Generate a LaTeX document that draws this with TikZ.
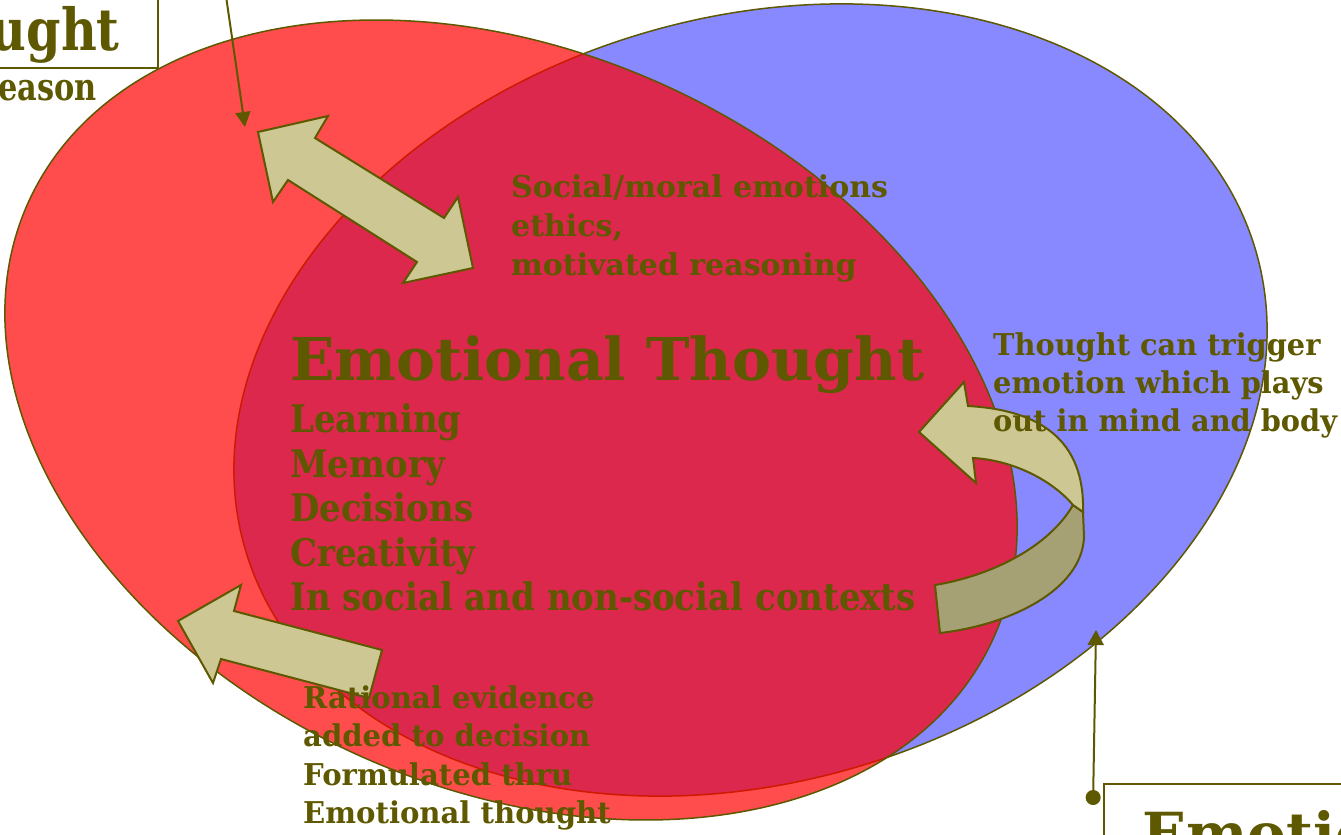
\documentclass[tikz,border=0pt]{standalone}
\usepackage{fontspec}
\usepackage{graphicx}
\setmainfont{DejaVu Serif}
\usetikzlibrary{arrows.meta}
\definecolor{olivetext}{RGB}{94,88,0}
\definecolor{redc}{RGB}{255,0,0}
\definecolor{bluec}{RGB}{136,136,255}
\definecolor{khaki}{RGB}{204,199,147}
\definecolor{khakidark}{RGB}{166,161,116}
\newcommand{\sqz}[2]{\scalebox{#1}[1]{#2}}
\tikzset{
  lbl/.style={anchor=base west, inner sep=0pt, text=olivetext, font=\bfseries\fontsize{#1}{#1}\selectfont},
  lble/.style={anchor=base east, inner sep=0pt, text=olivetext, font=\bfseries\fontsize{#1}{#1}\selectfont},
  outline/.style={draw=olivetext, line width=1.5pt},
  blockarrow/.style={draw=olivetext, line width=2pt, line join=miter, fill=khaki},
  pointer/.style={draw=olivetext, line width=2pt},
  titlebox/.style={draw=olivetext, line width=1.5pt, fill=white},
}
\begin{document}
\begin{tikzpicture}[x=1pt,y=-1pt]
\useasboundingbox (0,0) rectangle (1341,835);
\clip (0,0) rectangle (1341,835);
% ellipses
\draw[outline, fill=bluec, rotate around={16.67:(750.5,400)}] (750.5,400) ellipse [x radius=526.9, y radius=382.1];
\draw[outline, fill=redc, fill opacity=0.7, rotate around={-24.2:(511,420)}] (511,420) ellipse [x radius=529.5, y radius=368.3];

% double arrow
\draw[blockarrow] (258,132) -- (328,116) -- (315,138) -- (444,218) -- (458,197) -- (473,268) -- (403,283) -- (417,262) -- (288,180) -- (273,202) -- cycle;
% lower left arrow
\draw[blockarrow] (178,621) -- (241,585) -- (234,611) -- (382,650) -- (369,698) -- (221,659) -- (213,683) -- cycle;
% curved arrow: back part
\draw[blockarrow, fill=khakidark] (1073,505) -- (1083,512) -- (1084,537) .. controls (1082,590) and (1010,625) .. (940,633) -- (935,585) .. controls (995,575) and (1050,545) .. (1073,505) -- cycle;
% curved arrow: front part
\draw[blockarrow] (1083,512) -- (1073,505) .. controls (1050,478) and (1010,460) .. (973,458) -- (976,483) -- (919,432) -- (964,382) -- (968,406) .. controls (1040,410) and (1085,440) .. (1083,512) -- cycle;

% texts
\node[lbl=30] (s1) at (511,197) {Social/moral emotions};
\node[lbl=30] (s2) at (511,236) {ethics,};
\node[lbl=30] (s3) at (511,275) {motivated reasoning};

\node[lbl=59] (et) at (290,380) {\sqz{0.99}{Emotional Thought}};
\node[lbl=38] (l1) at (290,432) {\sqz{0.894}{Learning}};
\node[lbl=38] (l2) at (290,477) {\sqz{0.894}{Memory}};
\node[lbl=38] (l3) at (290,521) {\sqz{0.894}{Decisions}};
\node[lbl=38] (l4) at (290,566) {\sqz{0.894}{Creativity}};
\node[lbl=38] (l5) at (290,610) {\sqz{0.894}{In social and non-social contexts}};

\node[lbl=30] (t1) at (993,355) {\sqz{0.96}{Thought can trigger}};
\node[lbl=30] (t2) at (993,393) {\sqz{0.96}{emotion which plays}};
\node[lbl=30] (t3) at (993,431) {\sqz{0.96}{out in mind and body}};

\node[lbl=30] (r1) at (303,708) {\sqz{0.97}{Rational evidence}};
\node[lbl=30] (r2) at (303,746) {\sqz{0.97}{added to decision}};
\node[lbl=30] (r3) at (303,785) {\sqz{0.97}{Formulated thru}};
\node[lbl=30] (r4) at (303,823) {\sqz{0.97}{Emotional thought}};

% title boxes
\draw[titlebox] (-20,-20) rectangle (158,68);
\node[lble=58] (rt) at (120,50) {\sqz{0.85}{Thought}};
\node[lble=38] (rs) at (97,100) {\sqz{0.8}{Reason}};
\draw[titlebox] (1104,784) rectangle (1400,900);
\node[lbl=58] (em) at (1142,854) {Emotion};

% pointers
\coordinate (p1) at (226,-4);
\coordinate (p1e) at (245,127);
\draw[pointer, -{Triangle[length=15pt,width=15pt]}] (p1) -- (p1e);
\coordinate (p2) at (1093,805);
\coordinate (p2e) at (1096,630);
\draw[pointer, {Circle[length=15pt]}-{Triangle[length=15pt,width=16pt]}] (p2) -- (p2e);
\end{tikzpicture}
\end{document}
